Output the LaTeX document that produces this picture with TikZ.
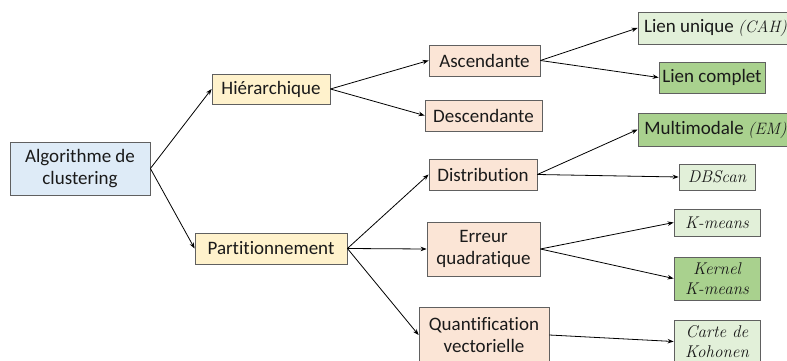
\documentclass[tikz,border=0pt]{standalone}
\usepackage{fontspec}
\setmainfont{Carlito}[RawFeature={-liga;-clig;-dlig;-calt}]
\newfontfamily\lmit{Latin Modern Roman}
\usetikzlibrary{arrows.meta}
\definecolor{cblue}{HTML}{DEEBF7}
\definecolor{cyellow}{HTML}{FFF2CC}
\definecolor{cpeach}{HTML}{FBE5D6}
\definecolor{clgreen}{HTML}{E2F0D9}
\definecolor{cdgreen}{HTML}{A9D18E}
\definecolor{cborder}{HTML}{606060}
\definecolor{ctext}{HTML}{1A1A1A}
\tikzset{
  box/.style={draw=cborder, line width=0.8pt, inner sep=0pt, align=center, text=ctext,
    font=\fontsize{19}{22}\selectfont},
  ibox/.style={box, font=\lmit\itshape\fontsize{17}{20}\selectfont},
  arr/.style={-{Stealth[length=6pt,width=4.5pt]}, line width=0.8pt, black}
}
\newcommand{\cit}[1]{{\lmit\itshape\fontsize{16.5}{20}\selectfont #1}}
\begin{document}
\begin{tikzpicture}[x=1pt,y=-1pt]
\useasboundingbox (0,0) rectangle (787,361);
\clip (0,0) rectangle (787,361);
\node[box, fill=cblue, minimum width=140pt, minimum height=53pt] (algo) at (80,168.5) {Algorithme de\\clustering};
\node[box, fill=cyellow, minimum width=118pt, minimum height=30pt] (hier) at (271,89) {Hiérarchique};
\node[box, fill=cyellow, minimum width=152pt, minimum height=31pt] (part) at (271,248.5) {Partitionnement};
\node[box, fill=cpeach, minimum width=111pt, minimum height=31pt] (asc) at (484.5,60.5) {Ascendante};
\node[box, fill=cpeach, minimum width=117pt, minimum height=31pt] (desc) at (483.5,115.5) {Descendante};
\node[box, fill=cpeach, minimum width=108pt, minimum height=31pt] (dist) at (483,174.5) {Distribution};
\node[box, fill=cpeach, minimum width=113pt, minimum height=54pt] (err) at (483.5,249) {Erreur\\quadratique};
\node[box, fill=cpeach, minimum width=130pt, minimum height=56pt] (quant) at (484,335) {Quantification\\vectorielle};
\node[box, fill=clgreen, minimum width=155pt, minimum height=32pt] (lu) at (715.5,28) {Lien unique \cit{(CAH)}};
\node[box, fill=cdgreen, minimum width=106pt, minimum height=31pt] (lc) at (712,77.5) {Lien complet};
\node[box, fill=cdgreen, minimum width=155pt, minimum height=33pt] (mm) at (715.5,129.5) {Multimodale \cit{(EM)}};
\node[ibox, fill=clgreen, minimum width=76pt, minimum height=26pt] (dbs) at (717,177) {DBScan};
\node[ibox, fill=clgreen, minimum width=86pt, minimum height=27pt] (km) at (717,222.5) {K-means};
\node[ibox, fill=cdgreen, minimum width=86pt, minimum height=43pt] (kkm) at (717,278.5) {Kernel\\K-means};
\node[ibox, fill=clgreen, minimum width=86pt, minimum height=43pt] (koh) at (717,341.5) {Carte de\\Kohonen};
\draw[arr] (algo.east) -- (hier.west);
\draw[arr] (algo.east) -- (part.west);
\draw[arr] (hier.east) -- (asc.west);
\draw[arr] (hier.east) -- (desc.west);
\draw[arr] (asc.east) -- (lu.west);
\draw[arr] (asc.east) -- (lc.west);
\draw[arr] (part.east) -- (dist.west);
\draw[arr] (part.east) -- (err.west);
\draw[arr] (part.east) -- (quant.west);
\draw[arr] (dist.east) -- (mm.west);
\draw[arr] (dist.east) -- (dbs.west);
\draw[arr] (err.east) -- (km.west);
\draw[arr] (err.east) -- (kkm.west);
\draw[arr] (quant.east) -- (koh.west);
\end{tikzpicture}
\end{document}
